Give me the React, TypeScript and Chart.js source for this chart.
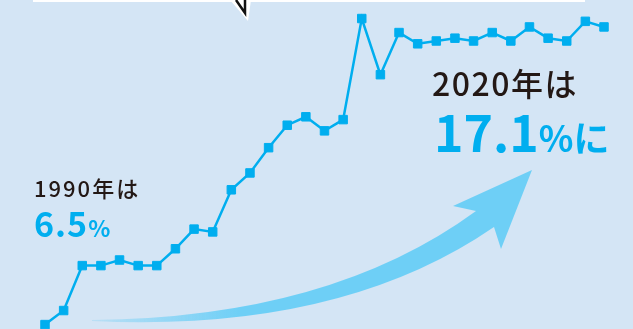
import React, { useEffect, useRef } from "react";
import { Chart, registerables } from "chart.js";

Chart.register(...registerables);

const years: string[] = [
  "1990", "1991", "1992", "1993", "1994", "1995", "1996", "1997", "1998", "1999",
  "2000", "2001", "2002", "2003", "2004", "2005", "2006", "2007", "2008", "2009",
  "2010", "2011", "2012", "2013", "2014", "2015", "2016", "2017", "2018", "2019", "2020",
];
const shares: number[] = [
  6.5, 7.0, 8.6, 8.6, 8.8, 8.6, 8.6, 9.2, 9.9, 9.8,
  11.3, 11.9, 12.8, 13.6, 13.9, 13.4, 13.8, 17.4, 15.4, 16.9,
  16.5, 16.6, 16.7, 16.6, 16.9, 16.6, 17.1, 16.7, 16.6, 17.3, 17.1,
];
const yMin = 6.2;
const yMax = 17.5;

const BG = "#d4e5f5";
const LINE = "#00aeef";
const ARROW = "#6ecff6";

const decor = {
  id: "decor",
  beforeDatasetsDraw(chart: any) {
    const ctx = chart.ctx as CanvasRenderingContext2D;
    ctx.save();
    const grad = ctx.createLinearGradient(92, 0, 240, 0);
    grad.addColorStop(0, "rgba(110,207,246,0.25)");
    grad.addColorStop(1, ARROW);
    ctx.fillStyle = grad;
    ctx.beginPath();
    ctx.moveTo(92, 320);
    ctx.quadraticCurveTo(330, 318, 476, 211);
    ctx.lineTo(453, 206);
    ctx.lineTo(532, 170);
    ctx.lineTo(501, 249);
    ctx.lineTo(494, 227);
    ctx.quadraticCurveTo(340, 333, 92, 321);
    ctx.closePath();
    ctx.fill();
    ctx.fillStyle = "#ffffff";
    ctx.fillRect(33, 0, 552, 2);
    ctx.beginPath();
    ctx.moveTo(230, 0);
    ctx.lineTo(251, 0);
    ctx.lineTo(248, 21);
    ctx.closePath();
    ctx.fill();
    ctx.strokeStyle = "#111111";
    ctx.lineWidth = 2.5;
    ctx.beginPath();
    ctx.moveTo(236, 0);
    ctx.lineTo(245, 13);
    ctx.lineTo(245, 0);
    ctx.stroke();
    ctx.restore();
  },
};

export default function App() {
  const ref = useRef<HTMLCanvasElement | null>(null);
  useEffect(() => {
    if (!ref.current) return;
    const chart = new Chart(ref.current, {
      type: "line",
      data: {
        labels: years,
        datasets: [
          {
            data: shares,
            borderColor: LINE,
            backgroundColor: LINE,
            borderWidth: 2.5,
            pointStyle: "rect",
            pointRadius: 6,
            pointBorderWidth: 1,
            pointBorderColor: LINE,
            pointBackgroundColor: LINE,
            tension: 0,
            clip: false,
          },
        ],
      },
      options: {
        animation: false,
        responsive: false,
        maintainAspectRatio: false,
        layout: { padding: { left: 45, right: 29, top: 15.72, bottom: 5.54 } },
        plugins: { legend: { display: false }, tooltip: { enabled: false } },
        scales: {
          x: { display: false, offset: false },
          y: { display: false, min: yMin, max: yMax },
        },
      },
      plugins: [decor],
    });
    return () => chart.destroy();
  }, []);

  const font = '"Noto Sans CJK JP", "Noto Sans", sans-serif';
  return (
    <div
      style={{
        position: "fixed",
        left: 0,
        top: 0,
        width: 633,
        height: 329,
        background: BG,
        overflow: "hidden",
        fontFamily: font,
      }}
    >
      <canvas ref={ref} width={633} height={340} style={{ position: "absolute", left: 0, top: 0 }} />
      <div style={{ position: "absolute", left: 34, top: 197 - 21, fontSize: 22, lineHeight: "22px", color: "#231815", fontWeight: 500, letterSpacing: 2, whiteSpace: "nowrap" }}>
        1990年は
      </div>
      <div style={{ position: "absolute", left: 34, top: 238 - 32, fontSize: 34, lineHeight: "34px", color: LINE, fontWeight: 700, whiteSpace: "nowrap", letterSpacing: 1 }}>
        6.5<span style={{ fontSize: 23 }}>%</span>
      </div>
      <div style={{ position: "absolute", left: 432, top: 96 - 30, fontSize: 32, lineHeight: "32px", color: "#231815", fontWeight: 500, letterSpacing: 1.5, whiteSpace: "nowrap" }}>
        2020年は
      </div>
      <div style={{ position: "absolute", left: 434, top: 152 - 47, fontSize: 50, lineHeight: "50px", color: LINE, fontWeight: 700, whiteSpace: "nowrap", letterSpacing: 0 }}>
        17.1<span style={{ fontSize: 36 }}>%に</span>
      </div>
    </div>
  );
}
